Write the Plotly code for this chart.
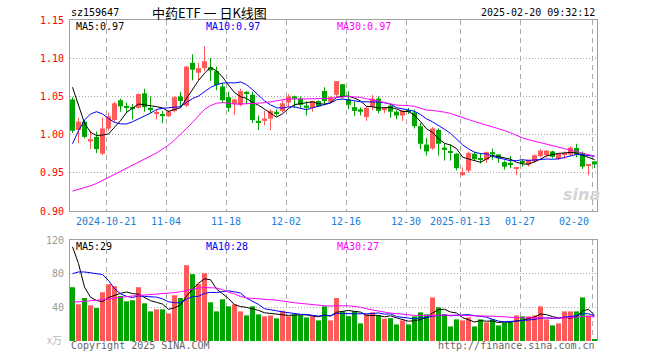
import numpy as np
import plotly.graph_objects as go

# ---------------- data ----------------
dates = [
    "2024-10-11", "2024-10-14", "2024-10-15", "2024-10-16", "2024-10-17", "2024-10-18",
    "2024-10-21", "2024-10-22", "2024-10-23", "2024-10-24", "2024-10-25",
    "2024-10-28", "2024-10-29", "2024-10-30", "2024-10-31", "2024-11-01",
    "2024-11-04", "2024-11-05", "2024-11-06", "2024-11-07", "2024-11-08",
    "2024-11-11", "2024-11-12", "2024-11-13", "2024-11-14", "2024-11-15",
    "2024-11-18", "2024-11-19", "2024-11-20", "2024-11-21", "2024-11-22",
    "2024-11-25", "2024-11-26", "2024-11-27", "2024-11-28", "2024-11-29",
    "2024-12-02", "2024-12-03", "2024-12-04", "2024-12-05", "2024-12-06",
    "2024-12-09", "2024-12-10", "2024-12-11", "2024-12-12", "2024-12-13",
    "2024-12-16", "2024-12-17", "2024-12-18", "2024-12-19", "2024-12-20",
    "2024-12-23", "2024-12-24", "2024-12-25", "2024-12-26", "2024-12-27",
    "2024-12-30", "2024-12-31", "2025-01-02", "2025-01-03",
    "2025-01-06", "2025-01-07", "2025-01-08", "2025-01-09", "2025-01-10",
    "2025-01-13", "2025-01-14", "2025-01-15", "2025-01-16", "2025-01-17",
    "2025-01-20", "2025-01-21", "2025-01-22", "2025-01-23", "2025-01-24",
    "2025-01-27", "2025-02-05", "2025-02-06", "2025-02-07",
    "2025-02-10", "2025-02-11", "2025-02-12", "2025-02-13", "2025-02-14",
    "2025-02-17", "2025-02-18", "2025-02-19", "2025-02-20",
]

opens = [1.046, 1.006, 1.017, 0.991, 0.997, 0.975, 1.008, 1.019, 1.045, 1.037,
         1.035, 1.035, 1.054, 1.035, 1.027, 1.026, 1.024, 1.031, 1.050, 1.038,
         1.094, 1.081, 1.087, 1.088, 1.083, 1.063, 1.049, 1.040, 1.039, 1.056,
         1.052, 1.018, 1.018, 1.021, 1.030, 1.031, 1.042, 1.050, 1.047, 1.038,
         1.035, 1.044, 1.057, 1.043, 1.052, 1.066, 1.046, 1.036, 1.033, 1.023,
         1.036, 1.047, 1.032, 1.038, 1.030, 1.025, 1.032, 1.029, 1.011, 0.987,
         0.982, 1.006, 0.983, 0.978, 0.975, 0.947, 0.953, 0.975, 0.969, 0.967,
         0.977, 0.974, 0.964, 0.963, 0.956, 0.964, 0.961, 0.965, 0.972, 0.973,
         0.978, 0.968, 0.974, 0.974, 0.9825, 0.976, 0.960, 0.965]
highs = [1.049, 1.022, 1.019, 1.005, 1.004, 1.022, 1.029, 1.043, 1.047, 1.042,
         1.040, 1.054, 1.060, 1.050, 1.033, 1.031, 1.032, 1.050, 1.056, 1.090,
         1.105, 1.094, 1.116, 1.100, 1.089, 1.067, 1.056, 1.047, 1.060, 1.057,
         1.056, 1.025, 1.031, 1.033, 1.033, 1.045, 1.053, 1.051, 1.050, 1.044,
         1.044, 1.045, 1.062, 1.050, 1.070, 1.066, 1.057, 1.043, 1.0355, 1.037,
         1.052, 1.050, 1.035, 1.040, 1.032, 1.032, 1.035, 1.033, 1.015, 0.996,
         1.010, 1.008, 0.988, 0.987, 0.976, 0.957, 0.978, 0.977, 0.976, 0.978,
         0.9815, 0.974, 0.966, 0.972, 0.957, 0.968, 0.967, 0.974, 0.981, 0.980,
         0.979, 0.976, 0.978, 0.9846, 0.988, 0.978, 0.961, 0.965]
lows = [1.002, 0.989, 0.995, 0.981, 0.976, 0.973, 1.005, 1.016, 1.030, 1.028,
        1.020, 1.034, 1.030, 1.028, 1.020, 1.015, 1.023, 1.029, 1.035, 1.036,
        1.071, 1.071, 1.083, 1.070, 1.058, 1.042, 1.030, 1.026, 1.037, 1.040,
        1.015, 1.006, 1.012, 1.006, 1.024, 1.029, 1.036, 1.035, 1.035, 1.025,
        1.030, 1.036, 1.0385, 1.041, 1.049, 1.047, 1.033, 1.0245, 1.025, 1.018,
        1.032, 1.028, 1.028, 1.022, 1.020, 1.018, 1.027, 1.008, 0.981, 0.9725,
        0.980, 0.9725, 0.966, 0.966, 0.953, 0.946, 0.950, 0.966, 0.962, 0.963,
        0.967, 0.963, 0.954, 0.956, 0.947, 0.958, 0.958, 0.963, 0.970, 0.970,
        0.969, 0.967, 0.968, 0.972, 0.970, 0.955, 0.947, 0.956]
closes = [1.005, 1.017, 0.997, 0.994, 0.981, 1.008, 1.024, 1.041, 1.037, 1.035,
          1.034, 1.053, 1.036, 1.032, 1.028, 1.025, 1.030, 1.049, 1.044, 1.089,
          1.085, 1.087, 1.096, 1.084, 1.065, 1.045, 1.035, 1.046, 1.057, 1.054,
          1.019, 1.016, 1.021, 1.031, 1.027, 1.041, 1.050, 1.047, 1.039, 1.035,
          1.044, 1.037, 1.044, 1.049, 1.070, 1.050, 1.039, 1.031, 1.030, 1.035,
          1.047, 1.031, 1.035, 1.030, 1.025, 1.031, 1.030, 1.011, 0.988, 0.978,
          1.008, 0.988, 0.981, 0.9765, 0.956, 0.951, 0.976, 0.968, 0.968, 0.977,
          0.974, 0.969, 0.958, 0.961, 0.957, 0.963, 0.967, 0.973, 0.979, 0.979,
          0.971, 0.975, 0.976, 0.983, 0.974, 0.958, 0.961, 0.961]
volumes = [63.9, 43.6, 51.1, 42.4, 39.2, 57.9, 67.5, 65.1, 53.5, 47.2,
           48.4, 63.9, 44.8, 35.2, 37.6, 37.6, 32.8, 54.3, 51.1, 90.1,
           79.4, 68.0, 80.6, 46.0, 35.2, 49.6, 41.2, 43.6, 35.2, 30.4,
           41.2, 31.6, 29.3, 30.4, 26.9, 36.0, 29.3, 31.6, 30.4, 28.0,
           29.3, 24.5, 41.2, 24.5, 51.1, 35.2, 29.6, 35.2, 20.9, 31.6,
           34.0, 30.4, 26.5, 27.2, 19.7, 24.5, 19.7, 29.3, 34.0, 31.6,
           51.8, 40.0, 31.6, 17.3, 25.7, 24.5, 28.0, 17.3, 25.7, 22.1,
           25.7, 18.5, 22.1, 22.1, 30.4, 29.3, 29.3, 30.4, 41.2, 25.7,
           18.5, 20.9, 35.2, 35.2, 35.2, 51.8, 30.4, 1.8]

# moving-average values for the first days, whose
# averaging window reaches back before the first visible trading day
ma5_head = [1.062, 1.038, 1.015, 1.003]
ma10_head = [0.988, 1.005, 1.019, 1.027, 1.030, 1.027, 1.021, 1.016, 1.014]
ma30_head = [0.926, 0.928, 0.930, 0.933, 0.936, 0.940, 0.943, 0.947, 0.951, 0.955,
             0.959, 0.963, 0.967, 0.972, 0.976, 0.981, 0.986, 0.993, 1.000, 1.008,
             1.016, 1.025, 1.033, 1.038, 1.041, 1.042, 1.041, 1.040, 1.040]
vma5_head = [112, 92, 64, 52]
vma10_head = [80, 82, 82, 81, 80, 79, 72, 62, 56]
vma30_head = [46, 46.5, 47, 47.5, 48, 49, 50, 51, 52, 53,
              53.5, 54, 54.5, 55, 55.5, 56, 56.5, 57.5, 58.5, 60,
              61.5, 63, 63.5, 63.5, 63, 61, 58, 56, 53]

grid_dates = ["2024-10-21", "2024-11-04", "2024-11-18", "2024-12-02", "2024-12-16",
              "2024-12-30", "2025-01-13", "2025-01-27", "2025-02-20"]
grid_labels = ["2024-10-21", "11-04", "11-18", "12-02", "12-16",
               "12-30", "2025-01-13", "01-27", "02-20"]
price_ticks = [0.90, 0.95, 1.00, 1.05, 1.10, 1.15]
volume_ticks = [40, 80, 120]

legend_price = ["MA5:0.97", "MA10:0.97", "MA30:0.97"]
legend_volume = ["MA5:29", "MA10:28", "MA30:27"]

# ---------------- styling ----------------
RED = "#FF5A5A"
GREEN = "#00A400"
MA_COLORS = ["#000000", "#0000FF", "#FF00FF"]
FRAME = "#A0A0A0"
GRID = "#AAAAAA"
MONO = "DejaVu Sans Mono"
BW = 5 / 6  # body width in index units

W, H = 660, 360
L_PX, R_PX, T_PX, B_PX = 70, 597, 20, 341


def px(x):
    return (x - L_PX) / (R_PX - L_PX)


def py(y):
    return (B_PX - y) / (B_PX - T_PX)


def moving_average(values, n, head):
    v = np.asarray(values, dtype=float)
    tail = np.convolve(v, np.ones(n) / n, mode="valid")
    return list(head) + list(tail)


o = np.array(opens)
c = np.array(closes)
hi = np.array(highs)
lo = np.array(lows)
x = np.arange(len(dates))
up = c > o
colors = [RED if u else GREEN for u in up]

fig = go.Figure()

# candle bodies
fig.add_trace(go.Bar(
    x=x, y=np.maximum(np.abs(c - o), 0.0013), base=np.minimum(o, c),
    width=BW, marker=dict(color=colors, line=dict(width=0)),
    xaxis="x", yaxis="y", hovertext=dates, name="K",
))

# wicks
for flag, col in ((True, RED), (False, GREEN)):
    wx, wy = [], []
    for i in range(len(dates)):
        if bool(up[i]) == flag:
            wx += [x[i], x[i], None]
            wy += [lo[i], hi[i], None]
    fig.add_trace(go.Scatter(x=wx, y=wy, mode="lines", line=dict(color=col, width=1),
                             xaxis="x", yaxis="y", hoverinfo="skip"))

# price moving averages
for n, head, col in ((5, ma5_head, MA_COLORS[0]), (10, ma10_head, MA_COLORS[1]),
                     (30, ma30_head, MA_COLORS[2])):
    fig.add_trace(go.Scatter(x=x, y=moving_average(closes, n, head), mode="lines",
                             line=dict(color=col, width=1), xaxis="x", yaxis="y"))

# volume bars
fig.add_trace(go.Bar(
    x=x, y=volumes, width=BW, marker=dict(color=colors, line=dict(width=0)),
    xaxis="x2", yaxis="y2", hovertext=dates,
))
for n, head, col in ((5, vma5_head, MA_COLORS[0]), (10, vma10_head, MA_COLORS[1]),
                     (30, vma30_head, MA_COLORS[2])):
    fig.add_trace(go.Scatter(x=x, y=moving_average(volumes, n, head), mode="lines",
                             line=dict(color=col, width=1), xaxis="x2", yaxis="y2"))

grid_pos = [dates.index(d) - BW / 2 for d in grid_dates]
xr = [-BW / 2, len(dates) - 1 + BW / 2]

common_x = dict(range=xr, tickvals=grid_pos, showticklabels=False, ticks="",
                showgrid=True, gridcolor=GRID, griddash="5px,4px", gridwidth=1,
                zeroline=False, fixedrange=True)

fig.update_layout(
    width=W, height=H, autosize=False,
    margin=dict(l=L_PX, r=W - R_PX, t=T_PX, b=H - B_PX, pad=0),
    paper_bgcolor="white", plot_bgcolor="white",
    showlegend=False, barmode="overlay",
    font=dict(family=MONO, size=10, color="#000"),
    xaxis=dict(domain=[0, 1], anchor="y", showline=True, mirror=True,
               linecolor=FRAME, linewidth=1, **common_x),
    xaxis2=dict(domain=[0, 1], anchor="y2", matches="x", side="top", showline=True,
                mirror=False, linecolor=FRAME, linewidth=1, **common_x),
    yaxis=dict(domain=[py(211), 1], range=[price_ticks[0], price_ticks[-1]],
               tickvals=price_ticks, ticktext=[f"{v:.2f}" for v in price_ticks],
               tickfont=dict(family=MONO, size=10, color="#FF0000"),
               ticks="outside", ticklen=3, tickcolor="rgba(0,0,0,0)",
               showgrid=True, gridcolor=GRID, griddash="1px,2px",
               showline=True, mirror=True, linecolor=FRAME, linewidth=1,
               zeroline=False, anchor="x", fixedrange=True),
    yaxis2=dict(domain=[0, py(240)], range=[0, 120],
                tickvals=volume_ticks, ticktext=[str(v) for v in volume_ticks],
                tickfont=dict(family=MONO, size=10, color="#999999"),
                ticks="outside", ticklen=3, tickcolor="rgba(0,0,0,0)",
                showgrid=True, gridcolor=GRID, griddash="1px,2px",
                showline=True, mirror=True, linecolor=FRAME, linewidth=1,
                zeroline=False, anchor="x2", fixedrange=True),
)

ann = []


def add_text(text, xp, yp, xanchor="left", color="#000", size=10, family=MONO, **kw):
    ann.append(dict(text=text, x=px(xp), y=py(yp), xref="paper", yref="paper",
                    xanchor=xanchor, yanchor="middle", showarrow=False,
                    font=dict(family=family, size=size, color=color), **kw))


add_text("sz159647", 69, 12.5)
add_text("中药ETF 一 日K线图", 209, 12, xanchor="center", size=13,
         family="Noto Sans CJK SC")
add_text("2025-02-20 09:32:12", 597, 12, xanchor="right")
for lbl, xp, col in zip(legend_price, (74, 204, 335), MA_COLORS):
    add_text(lbl, xp, 26, color=col)
for lbl, xp, col in zip(legend_volume, (74, 204, 335), MA_COLORS):
    add_text(lbl, xp, 246.5, color=col)
for i, (lbl, gp) in enumerate(zip(grid_labels, grid_pos)):
    gx = L_PX + (gp - xr[0]) / (xr[1] - xr[0]) * (R_PX - L_PX)
    last = i == len(grid_labels) - 1
    add_text(lbl, gx - 1 if last else gx, 221, xanchor="right" if last else "center",
             color="#1A7DD7")
add_text("x万", 64, 339, xanchor="right", color="#BBBBBB",
         family="Noto Sans CJK SC", size=10)
add_text("Copyright 2025 SINA.COM", 69, 345.5, color="#666666")
add_text("http://finance.sina.com.cn", 597, 345.5, xanchor="right", color="#666666")
add_text("<b><i>sina</i></b>", 581, 195, xanchor="center", color="#D4D4D4", size=16,
         family="DejaVu Sans")

fig.update_layout(annotations=ann)
fig.write_html("out.html", config={"displayModeBar": False},
               post_script="document.body.style.margin='0';")
